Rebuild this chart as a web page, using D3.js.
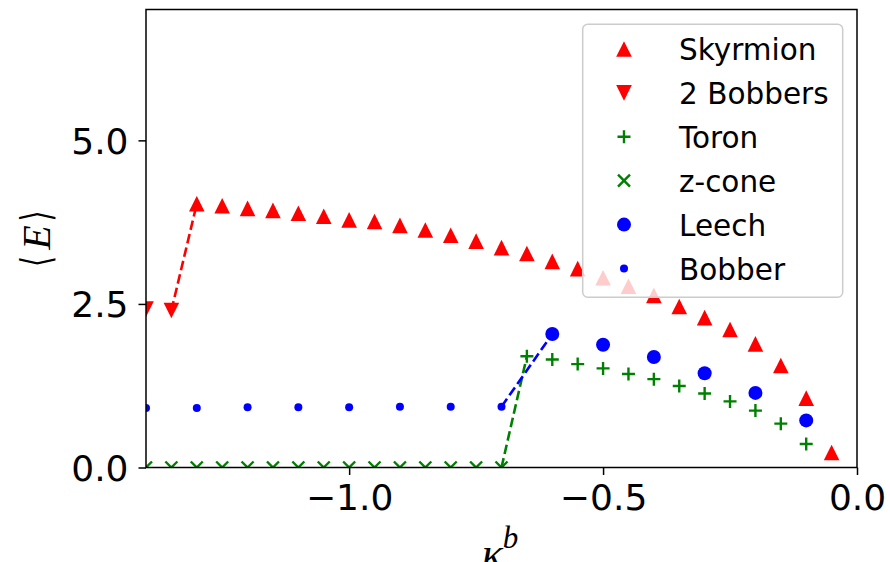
<!DOCTYPE html>
<html lang="en">
<head>
  <meta charset="UTF-8"/>
  <title>Energy vs kappa</title>
  <script src="https://d3js.org/d3.v7.min.js"></script>
  <style>
    body { margin: 0; background: #fff; }
    text { font-family: "DejaVu Sans", sans-serif; }
  </style>
</head>
<body>
<script>

  // data
  var skyrmionK = [-1.30, -1.25, -1.20, -1.15, -1.10, -1.05, -1.00, -0.95, -0.90, -0.85, -0.80, -0.75, -0.70,
                   -0.65, -0.60, -0.55, -0.50, -0.45, -0.40, -0.35, -0.30, -0.25, -0.20, -0.15, -0.10, -0.05];
  var skyrmionE = [4.03, 4.00, 3.96, 3.93, 3.885, 3.84, 3.785, 3.76, 3.70, 3.63, 3.55, 3.46, 3.36,
                   3.27, 3.15, 3.04, 2.90, 2.77, 2.63, 2.46, 2.29, 2.11, 1.89, 1.56, 1.06, 0.23];

  var bobbers2K = [-1.40, -1.35];
  var bobbers2E = [2.42, 2.40];

  var toronK = [-0.65, -0.60, -0.55, -0.50, -0.45, -0.40, -0.35, -0.30, -0.25, -0.20, -0.15, -0.10];
  var toronE = [1.70, 1.65, 1.58, 1.515, 1.43, 1.35, 1.245, 1.13, 1.01, 0.87, 0.67, 0.36];

  var zconeK = [-1.40, -1.35, -1.30, -1.25, -1.20, -1.15, -1.10, -1.05, -1.00, -0.95, -0.90, -0.85, -0.80, -0.75, -0.70];
  var zconeE = [0, 0, 0, 0, 0, 0, 0, 0, 0, 0, 0, 0, 0, 0, 0];

  var leechK = [-0.60, -0.50, -0.40, -0.30, -0.20, -0.10];
  var leechE = [2.04, 1.875, 1.69, 1.44, 1.14, 0.72];

  var bobberK = [-1.40, -1.30, -1.20, -1.10, -1.00, -0.90, -0.80, -0.70];
  var bobberE = [0.91, 0.91, 0.92, 0.92, 0.92, 0.93, 0.93, 0.93];

  var xTicks = [-1.0, -0.5, 0.0];
  var yTicks = [0.0, 2.5, 5.0];

  var W = 890, H = 562;
  var padL = 146, padT = 9.5, padR = 857, padB = 467.5;

  var xScale = d3.scaleLinear().domain([-1.4, 0]).range([padL, padR]);
  var yScale = d3.scaleLinear().domain([0, 7]).range([padB, padT]);

  function pts(ks, es) {
    return ks.map(function(k, i) { return [k, es[i]]; });
  }

  // marker shapes, pixel units
  var shapes = {
    triUp:   "M0,-7.8L7.8,7.8L-7.8,7.8Z",
    triDown: "M0,7.8L7.8,-7.8L-7.8,-7.8Z",
    plus:    "M-6.5,0H6.5M0,-6.5V6.5",
    cross:   "M-6,-6L6,6M-6,6L6,-6",
    big:     "M7,0A7,7 0 1,1 -7,0A7,7 0 1,1 7,0Z",
    small:   "M4,0A4,4 0 1,1 -4,0A4,4 0 1,1 4,0Z"
  };

  var series = [
    { name: "Skyrmion",  data: pts(skyrmionK, skyrmionE), shape: "triUp",   color: "#ff0000", filled: true },
    { name: "2 Bobbers", data: pts(bobbers2K, bobbers2E), shape: "triDown", color: "#ff0000", filled: true },
    { name: "Toron",     data: pts(toronK, toronE),       shape: "plus",    color: "#008000", filled: false },
    { name: "z-cone",    data: pts(zconeK, zconeE),       shape: "cross",   color: "#008000", filled: false },
    { name: "Leech",     data: pts(leechK, leechE),       shape: "big",     color: "#0000ff", filled: true },
    { name: "Bobber",    data: pts(bobberK, bobberE),     shape: "small",   color: "#0000ff", filled: true }
  ];

  // dashed jumps between branches
  var jumps = [
    { color: "#ff0000", a: series[1].data[series[1].data.length - 1], b: series[0].data[0] },
    { color: "#008000", a: series[3].data[series[3].data.length - 1], b: series[2].data[0] },
    { color: "#0000ff", a: series[5].data[series[5].data.length - 1], b: series[4].data[0] }
  ];

  var svg = d3.select("body")
              .append("svg")
              .attr("width", W)
              .attr("height", H);

  svg.append("clipPath")
     .attr("id", "plotclip")
     .append("rect")
     .attr("x", padL)
     .attr("y", padT)
     .attr("width", padR - padL)
     .attr("height", padB - padT);

  var plot = svg.append("g").attr("clip-path", "url(#plotclip)");

  series.forEach(function(s) {
    plot.append("g")
        .selectAll("path")
        .data(s.data)
        .enter()
        .append("path")
        .attr("transform", function(d) {
          return "translate(" + xScale(d[0]) + "," + yScale(d[1]) + ")";
        })
        .attr("d", shapes[s.shape])
        .attr("fill", s.filled ? s.color : "none")
        .attr("stroke", s.filled ? "none" : s.color)
        .attr("stroke-width", 2.4);
  });

  plot.selectAll(".jump")
      .data(jumps)
      .enter()
      .append("line")
      .attr("class", "jump")
      .attr("x1", function(d) { return xScale(d.a[0]); })
      .attr("y1", function(d) { return yScale(d.a[1]); })
      .attr("x2", function(d) { return xScale(d.b[0]); })
      .attr("y2", function(d) { return yScale(d.b[1]); })
      .attr("stroke", function(d) { return d.color; })
      .attr("stroke-width", 2.6)
      .attr("stroke-dasharray", "9.6,4.2");

  // axes
  var fmt = d3.format(".1f");

  var xAxis = svg.append("g")
     .attr("transform", "translate(0," + padB + ")")
     .call(d3.axisBottom(xScale).tickValues(xTicks).tickFormat(fmt).tickSizeInner(7.5).tickSizeOuter(0).tickPadding(9));

  var yAxis = svg.append("g")
     .attr("transform", "translate(" + padL + ",0)")
     .call(d3.axisLeft(yScale).tickValues(yTicks).tickFormat(fmt).tickSizeInner(7.5).tickSizeOuter(0).tickPadding(10));

  [xAxis, yAxis].forEach(function(ax) {
    ax.select(".domain").remove();
    ax.selectAll(".tick line").attr("stroke", "#000").attr("stroke-width", 1.5);
    ax.selectAll(".tick text")
      .attr("fill", "#000")
      .style("font-family", "DejaVu Sans")
      .style("font-size", "36px");
  });
  xAxis.selectAll(".tick text").attr("dy", "0.71em");
  yAxis.selectAll(".tick text").attr("dy", "0.36em");

  svg.append("rect")
     .attr("x", padL)
     .attr("y", padT)
     .attr("width", padR - padL)
     .attr("height", padB - padT)
     .attr("fill", "none")
     .attr("stroke", "#000")
     .attr("stroke-width", 1.5);

  // axis labels
  var xl = svg.append("text")
     .attr("x", 500)
     .attr("y", 568)
     .attr("text-anchor", "middle");
  xl.append("tspan")
    .style("font-family", "Liberation Serif")
    .style("font-style", "italic")
    .style("font-size", "44px")
    .text("κ");
  xl.append("tspan")
    .attr("dy", -20)
    .style("font-family", "Liberation Serif")
    .style("font-style", "italic")
    .style("font-size", "31px")
    .text("b");

  // y label: rotated group, local x runs up the screen
  var yl = svg.append("g")
     .attr("transform", "translate(35.6,239) rotate(-90)");

  yl.append("text")
    .attr("x", 1.5)
    .attr("y", 14.4)
    .attr("text-anchor", "middle")
    .style("font-family", "Liberation Serif")
    .style("font-style", "italic")
    .style("font-size", "40px")
    .text("E");

  // brackets fitted to 11 x 47 boxes
  [["⟨", -22.5], ["⟩", 23]].forEach(function(b) {
    var t = yl.append("text")
      .style("font-family", "DejaVu Sans")
      .style("font-size", "40px")
      .text(b[0]);
    var bb = t.node().getBBox();
    var sx = 11 / bb.width, sy = 47 / bb.height;
    t.attr("transform", "translate(" + b[1] + ",0) scale(" + sx + "," + sy + ") translate(" +
           (-(bb.x + bb.width / 2)) + "," + (-(bb.y + bb.height / 2)) + ")");
  });

  // legend
  var lx = 582.7, ly = 24.3, lw = 260, lh = 273, rowH = 43.9;
  svg.append("rect")
     .attr("x", lx)
     .attr("y", ly)
     .attr("width", lw)
     .attr("height", lh)
     .attr("rx", 5)
     .attr("fill", "#fff")
     .attr("fill-opacity", 0.8)
     .attr("stroke", "#cccccc")
     .attr("stroke-width", 1.5);

  var rows = svg.selectAll(".legrow")
     .data(series)
     .enter()
     .append("g")
     .attr("class", "legrow")
     .attr("transform", function(d, i) { return "translate(" + 624 + "," + (49 + i * rowH) + ")"; });

  rows.append("path")
      .attr("d", function(d) { return shapes[d.shape]; })
      .attr("fill", function(d) { return d.filled ? d.color : "none"; })
      .attr("stroke", function(d) { return d.filled ? "none" : d.color; })
      .attr("stroke-width", 2.4);

  rows.append("text")
      .attr("x", 55)
      .attr("y", 11)
      .style("font-size", "29.5px")
      .attr("fill", "#000")
      .text(function(d) { return d.name; });

</script>
</body>
</html>
